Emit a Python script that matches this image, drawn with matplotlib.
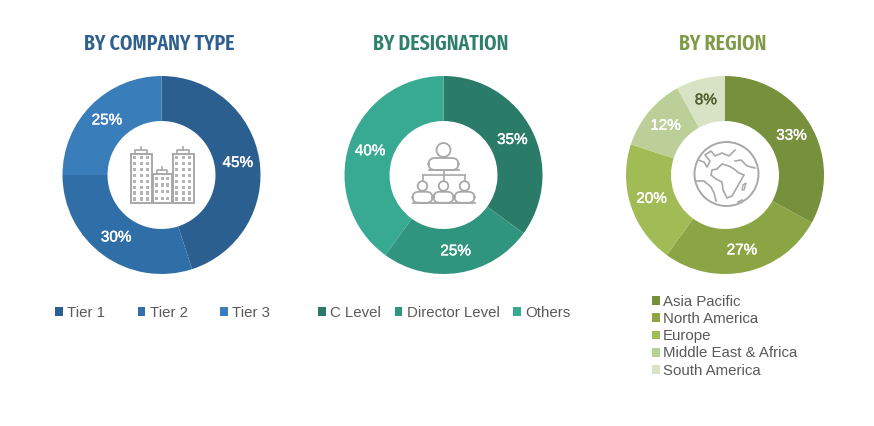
import matplotlib
matplotlib.use('Agg')
import matplotlib.pyplot as plt
import matplotlib.patheffects as pe
from matplotlib.patches import Rectangle, Circle, Polygon, FancyBboxPatch

plt.rcParams['font.family'] = ['Liberation Sans', 'DejaVu Sans']

W, H = 874, 426

# data
company_labels = ['Tier 1', 'Tier 2', 'Tier 3']
company_values = [45, 30, 25]
company_colors = ['#2b5f8f', '#2f6ea6', '#397dbb']

designation_labels = ['C Level', 'Director Level', 'Others']
designation_values = [35, 25, 40]
designation_colors = ['#2a7c68', '#2f957e', '#38aa91']

region_labels = ['Asia Pacific', 'North America', 'Europe', 'Middle East & Africa', 'South America']
region_values = [33, 27, 20, 12, 8]
region_colors = ['#76903c', '#8ba544', '#a1bb55', '#bccf98', '#d8e2c4']

GREY = '#a8a8a8'
TEXT = '#595959'


def make_axes(fig, cx, cy):
    # axes in pixel units around the donut centre
    ax = fig.add_axes([(cx - 110) / W, 1 - (cy + 110) / H, 220 / W, 220 / H])
    return ax


def donut(ax, values, colors):
    wedges, _, autotexts = ax.pie(values, colors=colors, radius=99, startangle=90, counterclock=False,
                                  autopct='%.0f%%', pctdistance=0.78,
                                  wedgeprops=dict(width=45, edgecolor='none'),
                                  textprops=dict(color='white', fontsize=11))
    for t in autotexts:
        t.set_path_effects([pe.withStroke(linewidth=0.3, foreground=t.get_color())])
    ax.set_xlim(-110, 110)
    ax.set_ylim(-110, 110)
    ax.set_aspect('equal')
    ax.axis('off')
    return wedges, autotexts


def tower(ax, x0, x1, y0, y1, ncol, nrow):
    ax.add_patch(Rectangle((x0, y0), x1 - x0, y1 - y0, fill=False, ec=GREY, lw=1.4))
    w = x1 - x0
    h = y1 - y0
    for i in range(ncol):
        for j in range(nrow):
            ax.add_patch(Rectangle((x0 + w * (i + 0.7) / (ncol + 0.4) - 1.4, y0 + h * (j + 0.65) / (nrow + 0.3) - 1.4),
                                   2.9, 3.2, color='#b4b4b4', lw=0))
    # roof
    mid = (x0 + x1) / 2
    ax.plot([mid - w * 0.28, mid - w * 0.28, mid + w * 0.28, mid + w * 0.28],
            [y1, y1 + 4, y1 + 4, y1], color=GREY, lw=1.2)
    ax.plot([mid, mid], [y1 + 4, y1 + 7], color=GREY, lw=1.2)


def buildings_icon(ax):
    tower(ax, -31, -10, -28, 21, 3, 8)
    tower(ax, 11, 32, -28, 21, 3, 8)
    tower(ax, -9, 10, -28, 1, 3, 4)


def person(ax, x, y, r, bw, bh):
    ax.add_patch(Circle((x, y), r, fill=False, ec=GREY, lw=1.3))
    ax.add_patch(FancyBboxPatch((x - bw / 2, y - r - bh - 1), bw, bh,
                                boxstyle='round,pad=0,rounding_size=%.1f' % (bh * 0.55),
                                fill=False, ec=GREY, lw=1.3))
    ax.plot([x - bw / 2, x + bw / 2], [y - r - bh - 1] * 2, color=GREY, lw=1.3)


def org_icon(ax):
    person(ax, 0, 25, 7, 30, 12)
    ax.plot([0, 0], [5, -5], color=GREY, lw=1.2)
    ax.plot([-21, 21], [0, 0], color=GREY, lw=1.2)
    for x in [-21, 21]:
        ax.plot([x, x], [0, -5], color=GREY, lw=1.2)
    for x in [-21, 0, 21]:
        person(ax, x, -11, 4.8, 20, 11)


def globe_icon(ax):
    ax.add_patch(Circle((1.5, 1), 32, fill=False, ec=GREY, lw=1.4))
    africa = [(-8, 6), (-3, 11), (4, 9), (9, 6), (14, 2), (19, 0), (15, -7), (11, -14), (7, -21),
              (2, -23), (-2, -15), (-3, -7), (-9, -4), (-14, 0), (-13, 5)]
    ax.add_patch(Polygon(africa, closed=True, fill=False, ec=GREY, lw=1.2))
    ax.plot([-27, -21, -18, -15, -20, -14, -10, -3, 4, 10],
            [15, 13, 8, 14, 20, 24, 19, 22, 19, 25], color=GREY, lw=1.2)
    ax.plot([10, 16, 22, 30], [14, 15, 9, 7], color=GREY, lw=1.2)
    ax.plot([-29, -21, -14, -11, -9], [-6, -6, -12, -18, -26], color=GREY, lw=1.2)
    ax.add_patch(Polygon([(18, -10), (21, -8), (19, -15), (17, -15)], closed=True, fill=False, ec=GREY, lw=1.0))
    ax.plot([13, 17], [-27, -25], color=GREY, lw=1.2)


def title(fig, cx, s, color):
    fig.text(cx / W, 1 - 44 / H, s, ha='center', va='center', color=color, fontsize=15.5,
             fontweight='semibold', family=['Fira Sans Extra Condensed', 'Liberation Sans'])


def legend(fig, handles, labels, x, y, ncol, columnspacing=1.0, labelspacing=0.15, textpad=0.3):
    return fig.legend(handles, labels, loc='upper left', bbox_to_anchor=(x / W, 1 - y / H), ncol=ncol,
                      frameon=False, fontsize=10.8, labelcolor=TEXT, handlelength=0.52, handleheight=0.52,
                      handletextpad=textpad, columnspacing=columnspacing, labelspacing=labelspacing,
                      borderpad=0, borderaxespad=0)


fig = plt.figure(figsize=(W / 100, H / 100), dpi=100, facecolor='white')

ax1 = make_axes(fig, 161.5, 175)
w1, _ = donut(ax1, company_values, company_colors)
buildings_icon(ax1)
title(fig, 159, 'BY COMPANY TYPE', '#2f5f8f')
legend(fig, w1, company_labels, 55, 306, 3, 2.15)

ax2 = make_axes(fig, 443.5, 175)
w2, _ = donut(ax2, designation_values, designation_colors)
org_icon(ax2)
title(fig, 441, 'BY DESIGNATION', '#2e7f6b')
legend(fig, w2, designation_labels, 318, 306, 3, 0.9)

ax3 = make_axes(fig, 725, 175)
w3, t3 = donut(ax3, region_values, region_colors)
t3[4].set_color('#4f5f30')
t3[4].set_path_effects([pe.withStroke(linewidth=0.3, foreground='#4f5f30')])
globe_icon(ax3)
title(fig, 723, 'BY REGION', '#7e9a45')
legend(fig, w3, region_labels, 652, 295, 1, labelspacing=0.21, textpad=0.22)

plt.savefig('out.png', dpi=100)
plt.close()
